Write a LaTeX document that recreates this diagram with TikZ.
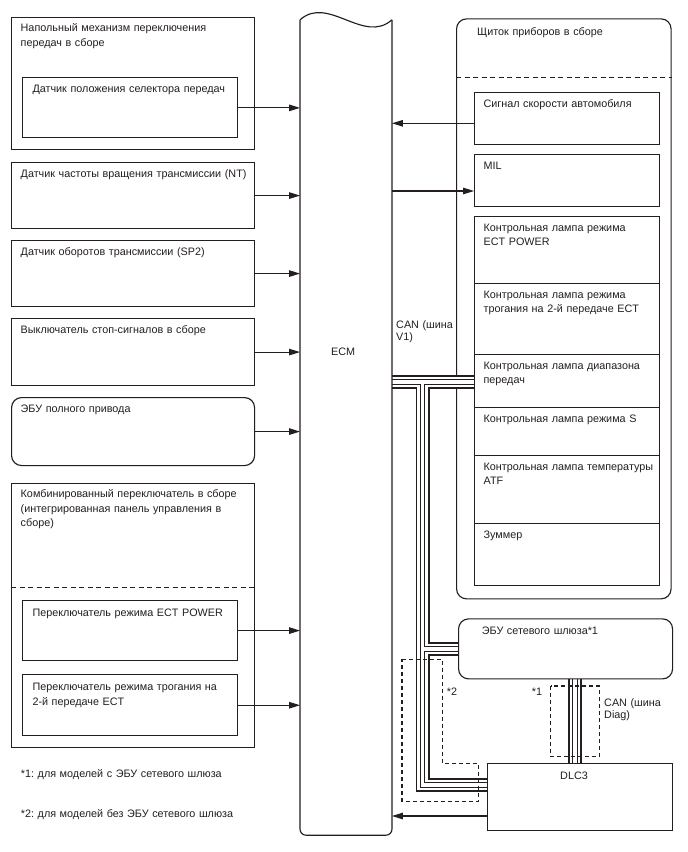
\documentclass[tikz,border=0pt]{standalone}
\usepackage{fontspec}
\setmainfont{Liberation Sans}
\usepackage{xcolor}
\usepackage{tikz}
\usetikzlibrary{calc,positioning,arrows.meta,backgrounds}
\frenchspacing

\definecolor{ink}{RGB}{36,30,31}
\tikzset{
  blk/.style={draw=ink,line width=1.15pt,inner sep=0pt,anchor=north west},
  rblk/.style={blk,rounded corners=10pt},
  lbl/.style={anchor=base west,align=left,inner sep=0pt,text width=300pt,
    text=ink,font=\fontsize{10.8}{14.5}\selectfont},
  arr/.style={draw=ink,line width=1.15pt,-{Triangle[length=11pt,width=6.5pt]}},
  fence/.style={draw=ink,line width=1.1pt,dash pattern=on 5pt off 3.5pt},
}

\begin{document}
\begin{tikzpicture}[x=1pt,y=-1pt]
\useasboundingbox (0,0) rectangle (688,852);
% left column: sensors and switches
\node[blk,minimum width=243pt,minimum height=132pt] (shift) at (11,17) {};
\node[lbl] (shift-t) at ($(shift.north west)+(9.5,14.5)$) {Напольный механизм переключения\\передач в сборе};
\node[blk,minimum width=214.5pt,minimum height=60pt] (sel) at (22.3,77.3) {};
\node[lbl] (sel-t) at ($(sel.north west)+(10,15.4)$) {Датчик положения селектора передач};
\foreach \n/\t/\b/\lab in {%
  nt/162/228/{Датчик частоты вращения трансмиссии (NT)},%
  sp/240/306/{Датчик оборотов трансмиссии (SP2)},%
  stop/318/385/{Выключатель стоп-сигналов в сборе}}{%
  \node[blk,minimum width=243pt,minimum height={(\b-\t)*1pt}] (\n) at (11,\t) {};
  \node[lbl] (\n-t) at ($(\n.north west)+(9.5,15)$) {\lab};
}
\node[rblk,minimum width=243pt,minimum height=68pt] (awd) at (11,397) {};
\node[lbl] (awd-t) at ($(awd.north west)+(9.5,15)$) {ЭБУ полного привода};
\node[blk,minimum width=243pt,minimum height=264.6pt] (combo) at (11,482.7) {};
\node[lbl] (combo-t) at ($(combo.north west)+(9.5,15)$) {Комбинированный переключатель в сборе\\(интегрированная панель управления в\\сборе)};
\draw[fence] (combo.west |- 0,587.7) -- (combo.east |- 0,587.7);
\node[blk,minimum width=214.5pt,minimum height=60pt] (pwrsw) at (22.3,600) {};
\node[lbl] (pwrsw-t) at ($(pwrsw.north west)+(10,16.5)$) {Переключатель режима ECT POWER};
\node[blk,minimum width=214.5pt,minimum height=60.7pt] (gearsw) at (22.3,674.3) {};
\node[lbl] (gearsw-t) at ($(gearsw.north west)+(10,16.5)$) {Переключатель режима трогания на\\2-й передаче ECT};
\node[lbl] (note1) at (20.7,777.3) {*1: для моделей с ЭБУ сетевого шлюза};
\node[lbl] (note2) at (20.7,817.3) {*2: для моделей без ЭБУ сетевого шлюза};

% ECM with wavy top
\node[minimum width=91.5pt,minimum height=815pt,inner sep=0pt] (ecm) at (346,427.5) {};
\draw[ink,line width=1.15pt,rounded corners=6pt] (ecm.north east) -- (ecm.south east) -- (ecm.south west) -- (ecm.north west);
\draw[ink,line width=1.15pt] (ecm.north west) .. controls +(28,-25) and +(-28,25) .. (ecm.north east);
\node[lbl] (ecm-t) at (331,355) {ECM};

% instrument cluster
\node[blk,minimum width=184.5pt,minimum height=51.5pt] (spd) at (474,92) {};
\node[lbl] (spd-t) at ($(spd.north west)+(9.4,15.6)$) {Сигнал скорости автомобиля};
\node[blk,minimum width=184.5pt,minimum height=51.5pt] (mil) at (474,154) {};
\node[lbl] (mil-t) at ($(mil.north west)+(9.4,15.6)$) {MIL};
\foreach \n/\t/\b/\lab in {%
  pwr/216/283/{Контрольная лампа режима\\ECT POWER},%
  start/283/354/{Контрольная лампа режима\\трогания на 2-й передаче ECT},%
  rng/354/407/{Контрольная лампа диапазона\\передач},%
  smode/407/455/{Контрольная лампа режима S},%
  atf/455/523/{Контрольная лампа температуры\\ATF},%
  buzz/523/585/{Зуммер}}{%
  \node[blk,minimum width=184.5pt,minimum height={(\b-\t)*1pt}] (\n) at (474,\t) {};
  \node[lbl] (\n-t) at ($(\n.north west)+(9.4,15)$) {\lab};
}

% gateway and DLC3
\node[rblk,minimum width=214pt,minimum height=60pt] (gw) at (458,618.3) {};
\node[lbl] (gw-t) at ($(gw.north west)+(23.7,16)$) {ЭБУ сетевого шлюза*1};
\node[blk,minimum width=185pt,minimum height=67pt] (dlc) at (487,763) {};
\node[lbl] (dlc-t) at (560,779.3) {DLC3};

\begin{scope}[on background layer]
\fill[white] (0,0) rectangle (688,852);
\node[rblk,minimum width=214.5pt,minimum height=580pt] (panel) at (456,18.3) {};
% CAN bus: walls first, then the inner wires
\coordinate (tee) at (422.5,382);
\coordinate (bend) at (422.5,785);
\coordinate (diag) at (575,700);
\foreach \w/\col in {14/ink,10.2/white,5.6/ink,3.6/white}
  \draw[line width=\w pt,\col] (ecm.east |- tee) -- (rng.west |- tee)
    (tee) -- (bend) -- (bend -| dlc.west)
    (tee |- gw.west) -- (gw.west)
    (diag |- gw.south) -- (diag |- dlc.north);
\end{scope}
\node[lbl] (panel-t) at ($(panel.north west)+(21,16.7)$) {Щиток приборов в сборе};
\draw[fence] (panel.west |- 0,77.3) -- (panel.east |- 0,77.3);

% signals into and out of the ECM
\foreach \n in {sel,nt,sp,stop,awd,pwrsw,gearsw}
  \draw[arr] (\n.east) -- (\n.east -| ecm.west);
\draw[arr] (spd.west |- 0,123.3) -- (ecm.east |- 0,123.3);
\draw[arr] (ecm.east |- 0,191) -- (mil.west |- 0,191);
\draw[arr] (dlc.west |- 0,816) -- (ecm.east |- 0,816);

% bus labels and model notes
\node[lbl,font=\fontsize{10.8}{12}\selectfont] (v1) at (396,328.3) {CAN (шина\\V1)};
\node[lbl,font=\fontsize{10.8}{12}\selectfont] (diag-t) at (604,706.7) {CAN (шина\\Diag)};
\node[lbl] (m1) at (531.7,695.5) {*1};
\node[lbl] (m2) at (446.7,695.5) {*2};
\draw[fence,dash pattern=on 4pt off 3pt] (550.7,686) rectangle (599.3,756.7);
\draw[fence,dash pattern=on 4pt off 3pt] (402,659.3) -| (442.7,763.3) -| (478.3,801.2) -- (402,801.2) -- cycle;
\end{tikzpicture}
\end{document}
